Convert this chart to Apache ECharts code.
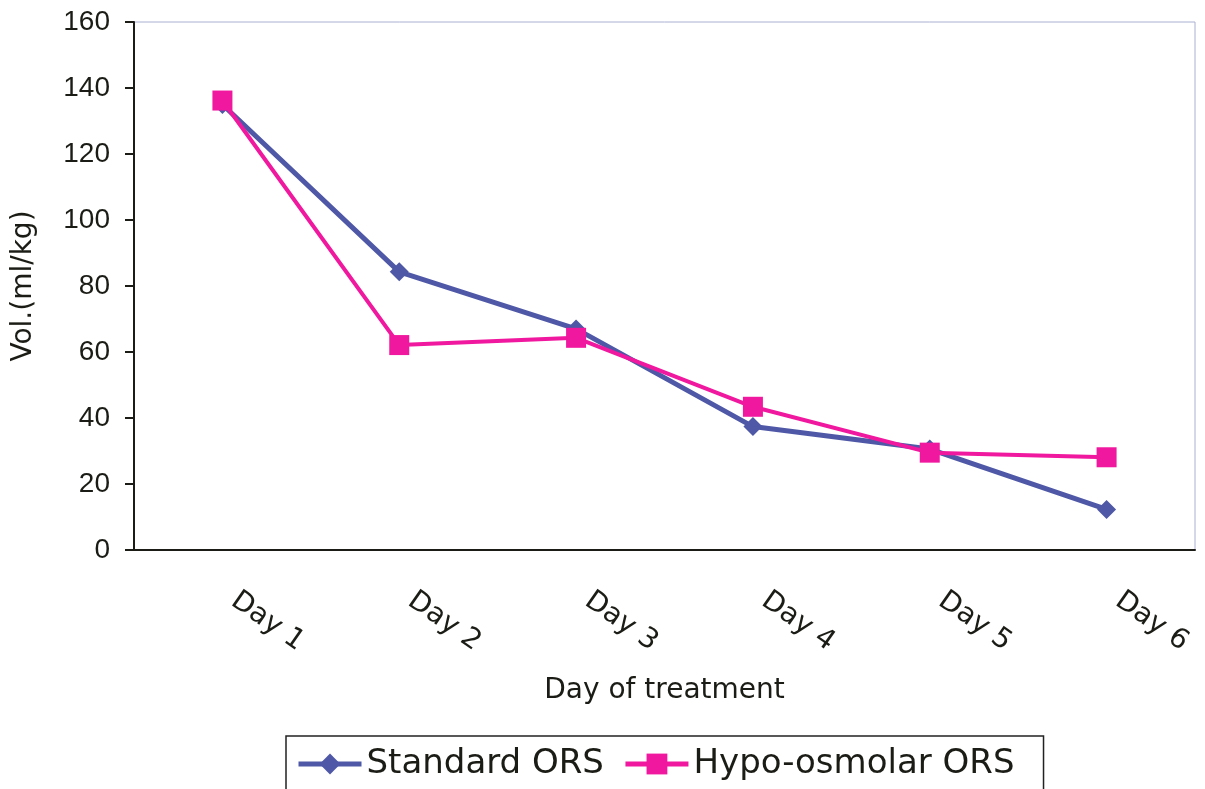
<!DOCTYPE html>
<html>
<head>
<meta charset="utf-8">
<title>Daily ORS volume</title>
<script src="https://cdn.jsdelivr.net/npm/echarts@6/dist/echarts.min.js"></script>
<style>
  html, body { margin: 0; padding: 0; background: #ffffff; }
  #chart { width: 1205px; height: 789px; }
</style>
</head>
<body>
<div id="chart"></div>
<script>
// Day of treatment categories
const days = ['Day 1', 'Day 2', 'Day 3', 'Day 4', 'Day 5', 'Day 6'];
// Volume of ORS taken, ml/kg
const standardORS = [135, 84.3, 67, 37.4, 30.6, 12.3];
const hypoOsmolarORS = [136.2, 62.1, 64.3, 43.4, 29.5, 28.1];
// Value axis ticks
const yTicks = [0, 20, 40, 60, 80, 100, 120, 140, 160];

const ink = '#1c1c16';
const blue = '#4e58a6';
const pink = '#f0189e';
const wide = '"DejaVu Sans", sans-serif';
const arial = '"Liberation Sans", Arial, sans-serif';

const chart = echarts.init(document.getElementById('chart'));

chart.setOption({
  animation: false,
  backgroundColor: '#ffffff',
  grid: {
    left: 134, right: 10, top: 22, bottom: 239,
    outerBoundsMode: 'none',
    containLabel: false,
    show: true, borderColor: '#aab0d2', borderWidth: 1,
    backgroundColor: 'transparent'
  },
  legend: {
    data: ['Standard ORS', 'Hypo-osmolar ORS'],
    left: 286, top: 736,
    padding: [11, 29, 11, 10],
    borderColor: '#222222', borderWidth: 1.5,
    itemWidth: 63, itemHeight: 26, itemGap: 19,
    lineStyle: { width: 5 },
    textStyle: { fontFamily: wide, fontSize: 34, color: ink }
  },
  xAxis: [
    {
      type: 'category',
      data: days,
      boundaryGap: true,
      name: 'Day of treatment',
      nameLocation: 'middle',
      nameGap: 127,
      nameTextStyle: { fontFamily: wide, fontSize: 28, color: ink },
      axisLine: { lineStyle: { color: ink, width: 2 } },
      axisTick: { inside: true, length: 10, alignWithLabel: false, lineStyle: { color: ink, width: 2 } },
      axisLabel: {
        rotate: -35, margin: 40, interval: 0,
        padding: [0, 0, 0, 14],
        fontFamily: wide, fontSize: 28, color: ink
      },
      splitLine: { show: false }
    },
    {
      // centre ticks hanging below the axis line
      type: 'category',
      data: days,
      boundaryGap: true,
      position: 'bottom',
      axisLine: { show: false },
      axisTick: { inside: false, length: 9, alignWithLabel: true, lineStyle: { color: ink, width: 2 } },
      axisLabel: { show: false },
      splitLine: { show: false }
    }
  ],
  yAxis: {
    type: 'value',
    min: yTicks[0],
    max: yTicks[yTicks.length - 1],
    interval: yTicks[1] - yTicks[0],
    name: 'Vol.(ml/kg)',
    nameLocation: 'middle',
    nameGap: 96,
    nameTextStyle: { fontFamily: wide, fontSize: 28, color: ink },
    axisLine: { show: true, lineStyle: { color: ink, width: 2 } },
    axisTick: { show: true, length: 9, lineStyle: { color: ink, width: 2 } },
    axisLabel: { margin: 24, fontFamily: arial, fontSize: 28, color: ink },
    splitLine: { show: false }
  },
  series: [
    {
      name: 'Standard ORS',
      type: 'line',
      data: standardORS,
      symbol: 'diamond',
      symbolSize: 19,
      lineStyle: { color: blue, width: 5 },
      itemStyle: { color: blue },
      z: 3
    },
    {
      name: 'Hypo-osmolar ORS',
      type: 'line',
      data: hypoOsmolarORS,
      symbol: 'rect',
      symbolSize: 20,
      lineStyle: { color: pink, width: 4 },
      itemStyle: { color: pink },
      z: 4
    }
  ]
});
</script>
</body>
</html>
